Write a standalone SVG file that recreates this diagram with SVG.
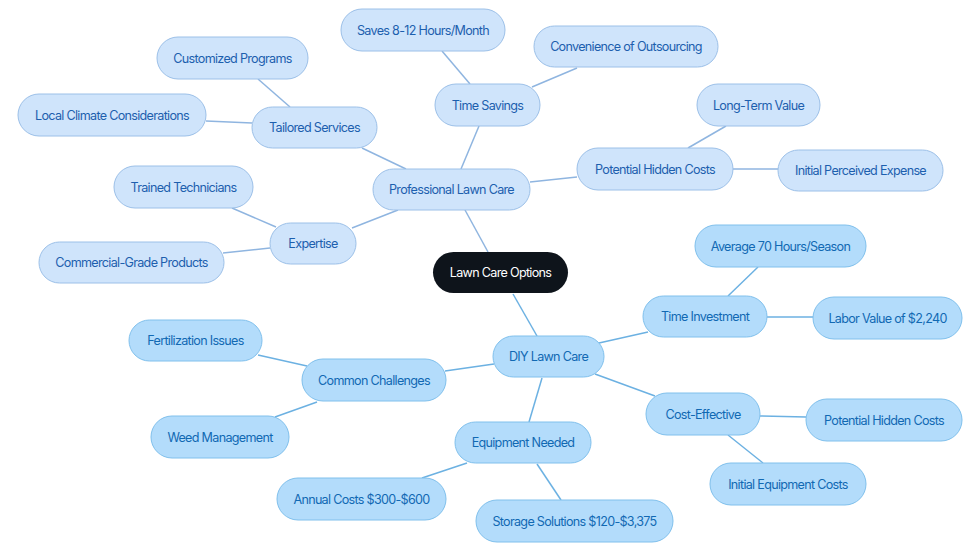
<svg xmlns="http://www.w3.org/2000/svg" width="980" height="553" viewBox="0 0 980 553">
<style>
text{font-family:Inter,"Noto Sans",sans-serif;font-size:12.6px;letter-spacing:-0.7px;text-anchor:middle;dominant-baseline:central}
.t rect{fill:#cfe4fb;stroke:#9cc0e8;stroke-width:1}
.t text{fill:#1d5fae}
.b rect{fill:#b3dcfb;stroke:#80c0ec;stroke-width:1}
.b text{fill:#1169b3}
.r rect{fill:#0e141b}
.r text{fill:#ffffff}
.ct line{stroke:#8fb5e0;stroke-width:1.5}
.cb line{stroke:#6cb1e2;stroke-width:1.5}
</style>
<rect width="980" height="553" fill="#ffffff"/>
<g id="connectors">
<g class="ct">
<line x1="488" y1="252" x2="465" y2="210"/>
<line x1="406" y1="169" x2="362" y2="148"/>
<line x1="290" y1="107" x2="258" y2="79"/>
<line x1="252" y1="123" x2="206" y2="121"/>
<line x1="461" y1="169" x2="479" y2="126"/>
<line x1="470" y1="84" x2="442" y2="51"/>
<line x1="532" y1="87" x2="577" y2="68"/>
<line x1="530" y1="182" x2="577" y2="177"/>
<line x1="688" y1="148" x2="726" y2="126"/>
<line x1="733" y1="169" x2="778" y2="169"/>
<line x1="398" y1="210" x2="352" y2="228"/>
<line x1="276" y1="227" x2="232" y2="208"/>
<line x1="270" y1="248" x2="223" y2="253"/>
</g>
<g class="cb">
<line x1="513" y1="294" x2="537" y2="336"/>
<line x1="599" y1="343" x2="648" y2="332"/>
<line x1="728" y1="296" x2="758" y2="267"/>
<line x1="767" y1="317" x2="813" y2="317"/>
<line x1="595" y1="374" x2="655" y2="396"/>
<line x1="760" y1="416" x2="806" y2="417"/>
<line x1="728" y1="435" x2="763" y2="463"/>
<line x1="542" y1="378" x2="529" y2="422"/>
<line x1="537" y1="464" x2="561" y2="500"/>
<line x1="467" y1="463" x2="422" y2="478"/>
<line x1="494" y1="364" x2="445" y2="371"/>
<line x1="307" y1="366" x2="258" y2="355"/>
<line x1="317" y1="402" x2="275" y2="417"/>
</g>
</g>
<g id="root" class="r"><rect x="433" y="252" width="135" height="41" rx="20.5"/><text x="500.5" y="272.5">Lawn Care Options</text></g>
<g id="professional" class="t"><rect x="373" y="169" width="157" height="41" rx="20.5"/><text x="451.5" y="189.5">Professional Lawn Care</text></g>
<g id="tailored" class="t"><rect x="252" y="107" width="125" height="41" rx="20.5"/><text x="314.5" y="127.5">Tailored Services</text></g>
<g id="customized" class="t"><rect x="157" y="37" width="151" height="42" rx="21"/><text x="232.5" y="58">Customized Programs</text></g>
<g id="local" class="t"><rect x="18" y="94" width="188" height="42" rx="21"/><text x="112" y="115">Local Climate Considerations</text></g>
<g id="timesavings" class="t"><rect x="435" y="84" width="105" height="42" rx="21"/><text x="487.5" y="105">Time Savings</text></g>
<g id="saves" class="t"><rect x="341" y="9" width="164" height="42" rx="21"/><text x="423" y="30">Saves 8-12 Hours/Month</text></g>
<g id="convenience" class="t"><rect x="534" y="26" width="184" height="41" rx="20.5"/><text x="626" y="46.5">Convenience of Outsourcing</text></g>
<g id="hiddencosts-top" class="t"><rect x="577" y="148" width="156" height="42" rx="21"/><text x="655" y="169">Potential Hidden Costs</text></g>
<g id="longterm" class="t"><rect x="697" y="84" width="123" height="42" rx="21"/><text x="758.5" y="105">Long-Term Value</text></g>
<g id="perceived" class="t"><rect x="778" y="150" width="165" height="41" rx="20.5"/><text x="860.5" y="170.5">Initial Perceived Expense</text></g>
<g id="expertise" class="t"><rect x="270" y="223" width="86" height="41" rx="20.5"/><text x="313" y="243.5">Expertise</text></g>
<g id="trained" class="t"><rect x="114" y="166" width="139" height="42" rx="21"/><text x="183.5" y="187">Trained Technicians</text></g>
<g id="commercial" class="t"><rect x="39" y="242" width="185" height="41" rx="20.5"/><text x="131.5" y="262.5">Commercial-Grade Products</text></g>
<g id="diy" class="b"><rect x="493" y="336" width="111" height="41" rx="20.5"/><text x="548.5" y="356.5">DIY Lawn Care</text></g>
<g id="timeinvestment" class="b"><rect x="643" y="296" width="124" height="41" rx="20.5"/><text x="705" y="316.5">Time Investment</text></g>
<g id="average" class="b"><rect x="695" y="225" width="171" height="42" rx="21"/><text x="780.5" y="246">Average 70 Hours/Season</text></g>
<g id="labor" class="b"><rect x="813" y="297" width="149" height="42" rx="21"/><text x="887.5" y="318">Labor Value of $2,240</text></g>
<g id="costeffective" class="b"><rect x="646" y="393" width="114" height="42" rx="21"/><text x="703" y="414">Cost-Effective</text></g>
<g id="hiddencosts-bottom" class="b"><rect x="806" y="399" width="156" height="42" rx="21"/><text x="884" y="420">Potential Hidden Costs</text></g>
<g id="initialequipment" class="b"><rect x="710" y="463" width="156" height="42" rx="21"/><text x="788" y="484">Initial Equipment Costs</text></g>
<g id="equipment" class="b"><rect x="455" y="422" width="136" height="41" rx="20.5"/><text x="523" y="442.5">Equipment Needed</text></g>
<g id="storage" class="b"><rect x="476" y="500" width="197" height="42" rx="21"/><text x="574.5" y="521">Storage Solutions $120-$3,375</text></g>
<g id="annual" class="b"><rect x="277" y="478" width="169" height="42" rx="21"/><text x="361.5" y="499">Annual Costs $300-$600</text></g>
<g id="challenges" class="b"><rect x="302" y="359" width="144" height="42" rx="21"/><text x="374" y="380">Common Challenges</text></g>
<g id="fertilization" class="b"><rect x="129" y="320" width="133" height="41" rx="20.5"/><text x="195.5" y="340.5">Fertilization Issues</text></g>
<g id="weed" class="b"><rect x="151" y="416" width="138" height="42" rx="21"/><text x="220" y="437">Weed Management</text></g>
</svg>
